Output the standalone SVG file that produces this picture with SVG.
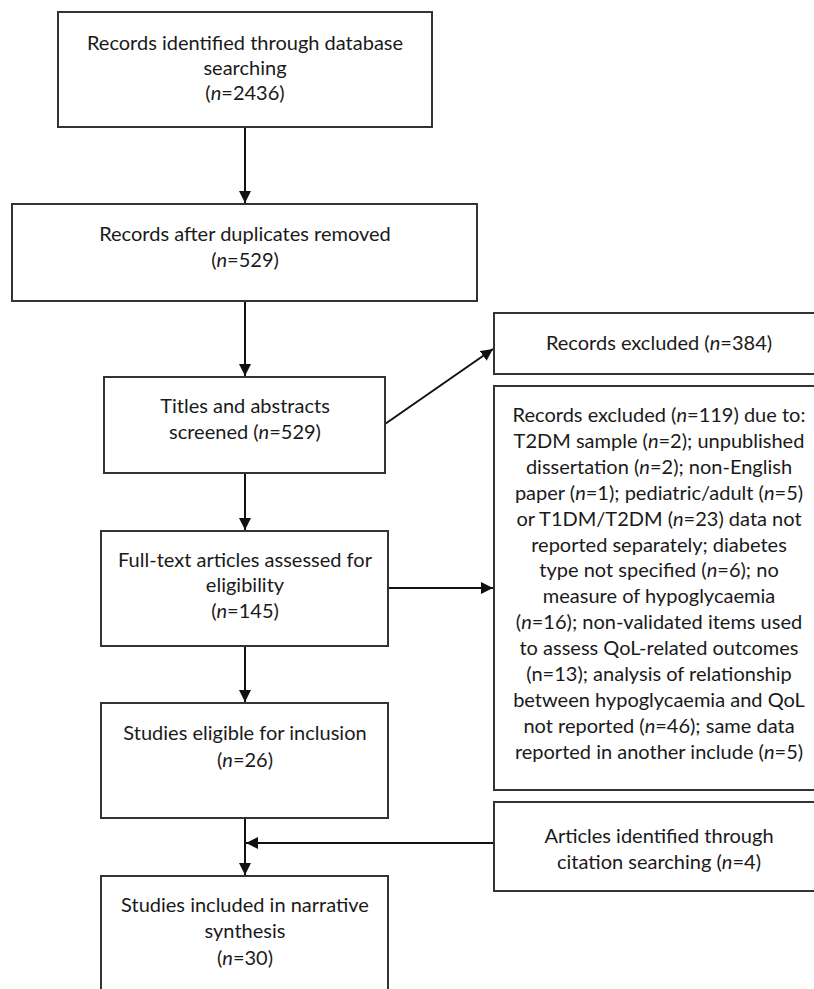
<svg xmlns="http://www.w3.org/2000/svg" width="814" height="989" viewBox="0 0 814 989">
<style>
.box{fill:#fff;stroke:#333;stroke-width:2}
.t{font-family:Lato,"Open Sans","Liberation Sans",sans-serif;font-size:20px;fill:#1a1a1a;text-anchor:middle}
.c{fill:none;stroke:#111;stroke-width:2}
</style>
<defs>
<marker id="ah" markerUnits="userSpaceOnUse" markerWidth="12" markerHeight="12" viewBox="0 0 12 12" refX="12" refY="6" orient="auto">
<path d="M0,0 L12,6 L0,12 Z" fill="#111"/>
</marker>
</defs>
<rect width="814" height="989" fill="#fff"/>
<g id="connectors">
<line class="c" x1="245" y1="127" x2="245" y2="203" marker-end="url(#ah)"/>
<line class="c" x1="245" y1="301" x2="245" y2="376" marker-end="url(#ah)"/>
<line class="c" x1="385" y1="424" x2="493" y2="349" marker-end="url(#ah)"/>
<line class="c" x1="245" y1="473" x2="245" y2="530" marker-end="url(#ah)"/>
<line class="c" x1="388" y1="588" x2="493" y2="588" marker-end="url(#ah)"/>
<line class="c" x1="245" y1="646" x2="245" y2="702" marker-end="url(#ah)"/>
<line class="c" x1="245" y1="818" x2="245" y2="875" marker-end="url(#ah)"/>
<line class="c" x1="494" y1="843" x2="246" y2="843" marker-end="url(#ah)"/>
</g>
<g id="n1">
<rect class="box" x="58" y="12" width="374" height="115"/>
<text class="t" x="245" y="50">Records identified through database</text>
<text class="t" x="245" y="75">searching</text>
<text class="t" x="245" y="100">(<tspan font-style="italic">n</tspan>=2436)</text>
</g>
<g id="n2">
<rect class="box" x="12" y="204" width="465" height="97"/>
<text class="t" x="245" y="241">Records after duplicates removed</text>
<text class="t" x="245" y="267">(<tspan font-style="italic">n</tspan>=529)</text>
</g>
<g id="n3">
<rect class="box" x="104" y="377" width="281" height="96"/>
<text class="t" x="245" y="413">Titles and abstracts</text>
<text class="t" x="245" y="439">screened (<tspan font-style="italic">n</tspan>=529)</text>
</g>
<g id="n4">
<rect class="box" x="494" y="313" width="330" height="61"/>
<text class="t" x="659" y="350">Records excluded (<tspan font-style="italic">n</tspan>=384)</text>
</g>
<g id="n5">
<rect class="box" x="494" y="386" width="330" height="404"/>
<text class="t" x="659" y="422">Records excluded (<tspan font-style="italic">n</tspan>=119) due to:</text>
<text class="t" x="659" y="448">T2DM sample (<tspan font-style="italic">n</tspan>=2); unpublished</text>
<text class="t" x="659" y="474">dissertation (<tspan font-style="italic">n</tspan>=2); non-English</text>
<text class="t" x="659" y="500">paper (<tspan font-style="italic">n</tspan>=1); pediatric/adult (<tspan font-style="italic">n</tspan>=5)</text>
<text class="t" x="659" y="526">or T1DM/T2DM (<tspan font-style="italic">n</tspan>=23) data not</text>
<text class="t" x="659" y="552">reported separately; diabetes</text>
<text class="t" x="659" y="577">type not specified (<tspan font-style="italic">n</tspan>=6); no</text>
<text class="t" x="659" y="603">measure of hypoglycaemia</text>
<text class="t" x="659" y="629">(<tspan font-style="italic">n</tspan>=16); non-validated items used</text>
<text class="t" x="659" y="655">to assess QoL-related outcomes</text>
<text class="t" x="659" y="681">(n=13); analysis of relationship</text>
<text class="t" x="659" y="707">between hypoglycaemia and QoL</text>
<text class="t" x="659" y="733">not reported (<tspan font-style="italic">n</tspan>=46); same data</text>
<text class="t" x="659" y="759">reported in another include (<tspan font-style="italic">n</tspan>=5)</text>
</g>
<g id="n6">
<rect class="box" x="101" y="531" width="287" height="115"/>
<text class="t" x="245" y="567">Full-text articles assessed for</text>
<text class="t" x="245" y="592">eligibility</text>
<text class="t" x="245" y="618">(<tspan font-style="italic">n</tspan>=145)</text>
</g>
<g id="n7">
<rect class="box" x="101" y="703" width="287" height="115"/>
<text class="t" x="245" y="740">Studies eligible for inclusion</text>
<text class="t" x="245" y="767">(<tspan font-style="italic">n</tspan>=26)</text>
</g>
<g id="n8">
<rect class="box" x="101" y="876" width="287" height="130"/>
<text class="t" x="245" y="912">Studies included in narrative</text>
<text class="t" x="245" y="938">synthesis</text>
<text class="t" x="245" y="965">(<tspan font-style="italic">n</tspan>=30)</text>
</g>
<g id="n9">
<rect class="box" x="494" y="802" width="330" height="89"/>
<text class="t" x="659" y="843">Articles identified through</text>
<text class="t" x="659" y="869">citation searching (<tspan font-style="italic">n</tspan>=4)</text>
</g>
</svg>
